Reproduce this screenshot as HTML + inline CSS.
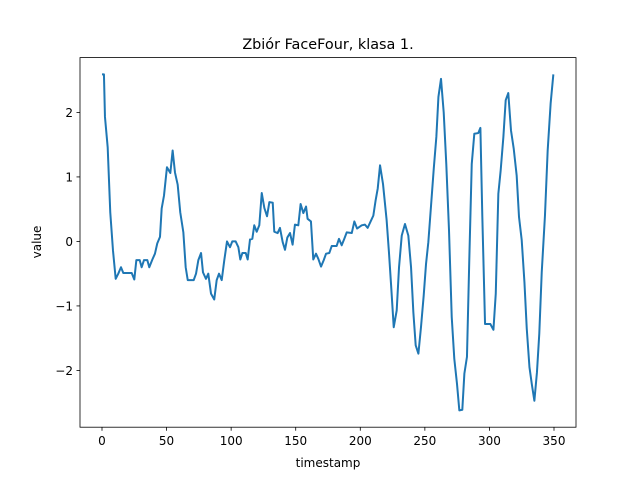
<!DOCTYPE html>
<html><head><meta charset="utf-8"><style>
body{margin:0;background:#fff;}
svg text{font-family:"DejaVu Sans","Liberation Sans",sans-serif;fill:#000;}
</style></head><body>
<svg id="chart" width="640" height="480" xmlns="http://www.w3.org/2000/svg">
<rect x="0" y="0" width="640" height="480" fill="#fff"/>
<text x="328" y="49" font-size="14.4" text-anchor="middle">Zbiór FaceFour, klasa 1.</text>
<g id="xt"></g>
<g id="yt"></g>
<polyline id="line" fill="none" stroke="#1f77b4" stroke-width="2" stroke-linejoin="round"/>
<rect x="80" y="57.6" width="496" height="369.6" fill="none" stroke="#000" stroke-width="0.8"/>
<text x="328" y="467" font-size="12" text-anchor="middle">timestamp</text>
<text x="41" y="242" font-size="12" text-anchor="middle" transform="rotate(-90 41 242)">value</text>
</svg>
<script>
const timestamps=[0,1.5,2.3,4.4,6.4,8.5,10.6,12.6,14.7,16.5,23,25,26.6,29.2,30.7,32.5,35.1,36.6,39,41,42.8,44.9,46.2,48,50.3,52.9,54.7,56.5,58.6,60.6,63,64.8,66.4,71,72.8,74.6,76.7,78.2,80.5,82.3,84.4,86.9,88.8,90.6,92.7,94.7,96.8,99.1,100.9,103.5,105.6,107.1,108.7,111.3,112.8,114.6,116.4,117.9,119.8,121.8,123.7,125.7,127.8,129.6,132.2,133.4,136,137.8,139.9,141.7,143.5,145.6,147.6,149.4,152,153.8,155.9,158,159.2,161.8,163.6,165.7,167.5,169.6,171.7,173.5,176,177.9,181.7,183.5,185.6,187.6,189.5,193.4,195.4,197.5,201.1,203.6,205.7,208,210.1,211.9,213.5,215.3,217.6,220.4,222.2,223.8,225.9,228.2,230,232.1,234.6,237.2,239.3,241.1,242.9,245,247,249.1,250.9,252.7,254.8,256.9,258.9,260.5,262.5,264.6,266.6,268.7,270.8,272.8,274.9,276.7,279,280.6,282.6,284.4,286.3,288.3,291.4,293,294.5,296.6,300.7,303.1,304.9,306.9,308.7,310.8,312.6,314.6,316.7,318.8,321.1,322.9,325,327.1,328.9,331,332.8,334.8,336.8,338.6,340.5,343,345.1,347.4,349.5];
const values=[2.59,2.59,1.93,1.46,0.45,-0.14,-0.58,-0.5,-0.4,-0.49,-0.49,-0.59,-0.29,-0.29,-0.4,-0.29,-0.29,-0.4,-0.28,-0.19,-0.03,0.07,0.51,0.71,1.15,1.06,1.41,1.07,0.88,0.45,0.14,-0.4,-0.6,-0.6,-0.5,-0.29,-0.18,-0.48,-0.58,-0.5,-0.81,-0.9,-0.6,-0.5,-0.6,-0.29,0,-0.09,0,0,-0.09,-0.28,-0.18,-0.18,-0.28,0.03,0.04,0.25,0.15,0.25,0.75,0.52,0.39,0.61,0.6,0.15,0.13,0.21,-0.01,-0.13,0.06,0.13,-0.05,0.26,0.25,0.58,0.44,0.54,0.35,0.31,-0.28,-0.19,-0.27,-0.39,-0.29,-0.19,-0.18,-0.07,-0.07,0.04,-0.06,0.04,0.14,0.13,0.31,0.2,0.25,0.26,0.21,0.31,0.4,0.64,0.82,1.18,0.89,0.33,-0.17,-0.66,-1.33,-1.07,-0.4,0.09,0.27,0.09,-0.4,-1.1,-1.61,-1.74,-1.33,-0.84,-0.35,-0.01,0.56,1.13,1.62,2.24,2.52,2.0,1.2,0.17,-1.17,-1.82,-2.21,-2.62,-2.61,-2.05,-1.79,-0.29,1.2,1.67,1.68,1.76,0.38,-1.28,-1.28,-1.37,-0.81,0.74,1.1,1.62,2.19,2.3,1.72,1.44,1.02,0.38,0.02,-0.63,-1.35,-1.95,-2.21,-2.47,-2.03,-1.43,-0.48,0.4,1.41,2.14,2.59];
const xTicks=[0,50,100,150,200,250,300,350];
const yTicks=[-2,-1,0,1,2];
const X=t=>102+t*(452/350);
const Y=v=>57.6+(2.85-v)*64.5;
const NS="http://www.w3.org/2000/svg";
document.getElementById('line').setAttribute('points',timestamps.map((t,i)=>X(t).toFixed(2)+','+Y(values[i]).toFixed(2)).join(' '));
const xt=document.getElementById('xt'),yt=document.getElementById('yt');
xTicks.forEach(t=>{
 const l=document.createElementNS(NS,'line');
 
 
 l.setAttribute('x1',X(t));l.setAttribute('x2',X(t));l.setAttribute('y1',427.2);l.setAttribute('y2',430.7);l.setAttribute('stroke','#000');l.setAttribute('stroke-width','0.8');
 xt.appendChild(l);
 const tx=document.createElementNS(NS,'text');
 
 
 tx.setAttribute('x',X(t));tx.setAttribute('y',445);tx.setAttribute('font-size','12');tx.setAttribute('text-anchor','middle');
 tx.textContent=t;xt.appendChild(tx);
});
yTicks.forEach(v=>{
 const l=document.createElementNS(NS,'line');
 
 
 l.setAttribute('x1',76.5);l.setAttribute('x2',80);l.setAttribute('y1',Y(v));l.setAttribute('y2',Y(v));l.setAttribute('stroke','#000');l.setAttribute('stroke-width','0.8');
 yt.appendChild(l);
 const tx=document.createElementNS(NS,'text');
 
 
 tx.setAttribute('x',73);tx.setAttribute('y',Y(v)+4.5);tx.setAttribute('font-size','12');tx.setAttribute('text-anchor','end');
 tx.textContent=v<0?'\u2212'+Math.abs(v):String(v);yt.appendChild(tx);
});
</script>
</body></html>
